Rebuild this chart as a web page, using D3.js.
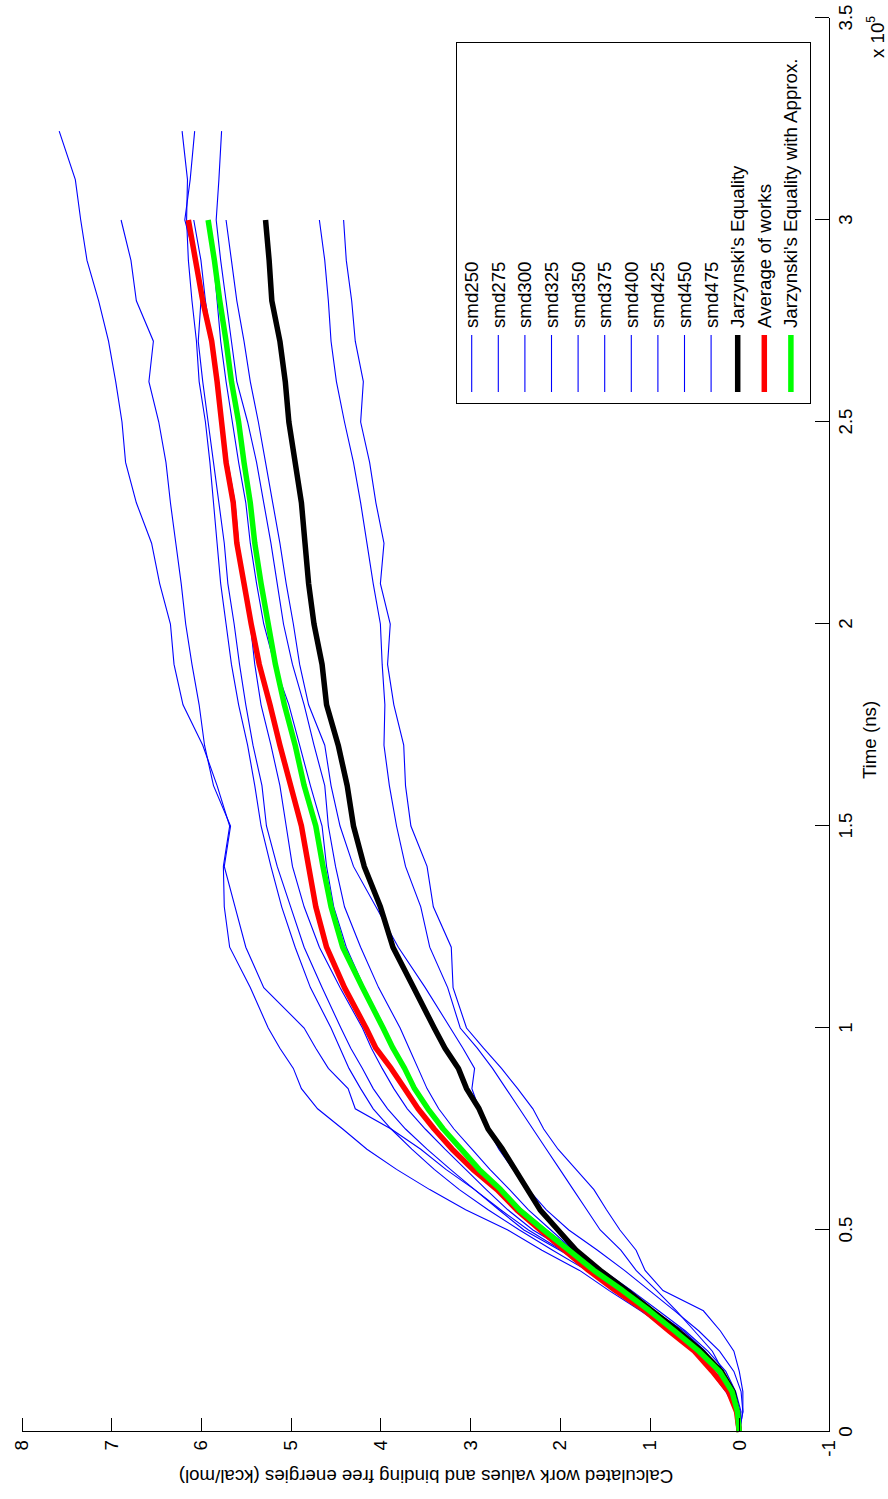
<!doctype html>
<html>
<head>
<meta charset="utf-8">
<title>Work values</title>
<style>
body { margin: 0; background: #fff; }
svg text { font-family: "Liberation Sans", Arial, sans-serif; font-size: 18.7px; fill: #000; }
.axis path, .axis line { fill: none; stroke: #000; shape-rendering: crispEdges; }
.blue { fill: none; stroke: #0000ff; stroke-width: 1.1px; }
.thick { fill: none; stroke-width: 5.5px; stroke-linejoin: round; }
</style>
<script src="https://cdn.jsdelivr.net/npm/d3@7"></script>
</head>
<body>
<script>
// time in units of 1e5
var timeSteps = [0, 0.05, 0.1, 0.15, 0.2, 0.25, 0.3, 0.35, 0.4, 0.45, 0.5, 0.55, 0.6, 0.65, 0.7, 0.75, 0.8, 0.85, 0.9, 0.95,
    1.0, 1.1, 1.2, 1.3, 1.4, 1.5, 1.6, 1.7, 1.8, 1.9, 2.0, 2.1, 2.2, 2.3, 2.4, 2.5, 2.6, 2.7, 2.8, 2.9, 3.0, 3.1, 3.22];

var smd250 = [0, 0.03, 0.15, 0.32, 0.50, 0.77, 1.10, 1.45, 1.78, 2.20, 2.58, 3.05, 3.45, 3.82, 4.15, 4.42, 4.70, 4.88, 4.97, 5.12,
    5.25, 5.45, 5.68, 5.74, 5.75, 5.68, 5.82, 5.98, 6.20, 6.30, 6.34, 6.46, 6.55, 6.72, 6.84, 6.88, 6.95, 7.03, 7.14, 7.27, 7.34, 7.40, 7.58];
var smd275 = [0, 0.02, 0.08, 0.20, 0.38, 0.62, 0.95, 1.28, 1.62, 2.00, 2.40, 2.68, 2.95, 3.27, 3.55, 3.88, 4.28, 4.36, 4.58, 4.72,
    4.85, 5.30, 5.50, 5.62, 5.74, 5.67, 5.86, 5.96, 6.02, 6.10, 6.17, 6.22, 6.28, 6.34, 6.39, 6.47, 6.58, 6.53, 6.72, 6.78, 6.89];
var smd300 = [0, 0.01, 0.10, 0.25, 0.45, 0.72, 1.02, 1.35, 1.70, 2.08, 2.45, 2.80, 3.12, 3.40, 3.65, 3.88, 4.08, 4.22, 4.35, 4.45,
    4.55, 4.78, 4.95, 5.10, 5.22, 5.33, 5.40, 5.48, 5.58, 5.66, 5.72, 5.78, 5.82, 5.86, 5.90, 5.95, 6.02, 6.05, 6.10, 6.14, 6.16, 6.15, 6.21];
var smd325 = [0, 0.02, 0.09, 0.22, 0.42, 0.68, 0.98, 1.30, 1.62, 1.98, 2.35, 2.66, 2.95, 3.22, 3.48, 3.72, 3.92, 4.08, 4.20, 4.33,
    4.44, 4.65, 4.85, 5.00, 5.15, 5.27, 5.32, 5.42, 5.50, 5.57, 5.63, 5.70, 5.74, 5.80, 5.86, 5.92, 5.98, 6.03, 6.00, 6.06, 6.18, 6.12, 6.07];
var smd350 = [0, 0.00, 0.06, 0.18, 0.40, 0.66, 0.96, 1.28, 1.58, 1.92, 2.30, 2.58, 2.82, 3.05, 3.28, 3.50, 3.70, 3.85, 3.98, 4.10,
    4.20, 4.45, 4.68, 4.85, 4.98, 5.05, 5.12, 5.22, 5.33, 5.40, 5.45, 5.52, 5.58, 5.62, 5.70, 5.76, 5.82, 5.88, 5.95, 6.00, 6.08];
var smd375 = [0, -0.02, 0.04, 0.15, 0.35, 0.60, 0.90, 1.20, 1.52, 1.85, 2.15, 2.42, 2.65, 2.88, 3.08, 3.28, 3.45, 3.60, 3.72, 3.85,
    3.95, 4.18, 4.38, 4.52, 4.60, 4.65, 4.78, 4.90, 5.02, 5.18, 5.30, 5.38, 5.45, 5.50, 5.58, 5.65, 5.72, 5.78, 5.82, 5.86, 5.90];
var smd400 = [0, 0.03, 0.12, 0.28, 0.48, 0.74, 1.02, 1.30, 1.58, 1.85, 2.10, 2.35, 2.56, 2.78, 2.98, 3.18, 3.35, 3.48, 3.58, 3.68,
    3.78, 4.02, 4.22, 4.40, 4.50, 4.58, 4.62, 4.74, 4.85, 4.98, 5.08, 5.15, 5.22, 5.30, 5.38, 5.48, 5.60, 5.66, 5.72, 5.78, 5.83, 5.80, 5.77];
var smd425 = [0, -0.04, -0.02, 0.06, 0.22, 0.45, 0.72, 1.00, 1.28, 1.58, 1.90, 2.15, 2.35, 2.52, 2.68, 2.80, 2.90, 2.98, 2.95, 3.08,
    3.22, 3.50, 3.80, 4.05, 4.30, 4.45, 4.55, 4.62, 4.80, 4.90, 4.97, 5.05, 5.12, 5.20, 5.28, 5.36, 5.45, 5.52, 5.60, 5.66, 5.72];
var smd450 = [0, -0.01, 0.08, 0.18, 0.30, 0.50, 0.70, 0.92, 1.15, 1.32, 1.55, 1.70, 1.85, 2.00, 2.15, 2.30, 2.45, 2.60, 2.75, 2.92,
    3.11, 3.25, 3.45, 3.55, 3.72, 3.82, 3.90, 3.96, 3.95, 3.98, 4.00, 4.08, 4.15, 4.22, 4.30, 4.40, 4.49, 4.55, 4.58, 4.62, 4.68];
var smd475 = [0, -0.04, -0.04, 0.00, 0.06, 0.21, 0.40, 0.85, 1.05, 1.15, 1.33, 1.48, 1.62, 1.82, 2.02, 2.18, 2.30, 2.47, 2.65, 2.85,
    3.04, 3.19, 3.21, 3.41, 3.48, 3.66, 3.72, 3.74, 3.85, 3.92, 3.89, 4.00, 3.96, 4.05, 4.12, 4.22, 4.19, 4.28, 4.32, 4.38, 4.41];

var jarzynski = [0, 0.02, 0.07, 0.20, 0.42, 0.68, 0.97, 1.25, 1.55, 1.82, 2.02, 2.22, 2.36, 2.50, 2.64, 2.80, 2.90, 3.04, 3.13, 3.28,
    3.40, 3.63, 3.86, 4.00, 4.18, 4.30, 4.37, 4.47, 4.60, 4.65, 4.74, 4.80, 4.84, 4.88, 4.95, 5.02, 5.06, 5.12, 5.21, 5.24, 5.28];
var averageWorks = [0, 0.03, 0.12, 0.30, 0.50, 0.78, 1.05, 1.38, 1.68, 1.95, 2.22, 2.48, 2.70, 2.97, 3.20, 3.40, 3.58, 3.73, 3.88, 4.05,
    4.16, 4.40, 4.60, 4.72, 4.80, 4.88, 5.00, 5.12, 5.23, 5.35, 5.44, 5.52, 5.60, 5.64, 5.72, 5.77, 5.82, 5.88, 5.98, 6.06, 6.14];
var jarzynskiApprox = [0, 0.02, 0.08, 0.22, 0.45, 0.72, 1.00, 1.30, 1.62, 1.90, 2.18, 2.45, 2.66, 2.90, 3.10, 3.30, 3.47, 3.62, 3.73, 3.86,
    3.97, 4.20, 4.42, 4.55, 4.64, 4.72, 4.85, 4.95, 5.07, 5.17, 5.25, 5.33, 5.40, 5.45, 5.52, 5.58, 5.66, 5.72, 5.79, 5.85, 5.92];

var blueSeries = [smd250, smd275, smd300, smd325, smd350, smd375, smd400, smd425, smd450, smd475];
var legendNames = ["smd250", "smd275", "smd300", "smd325", "smd350", "smd375", "smd400", "smd425", "smd450", "smd475",
    "Jarzynski's Equality", "Average of works", "Jarzynski's Equality with Approx."];
var timeTicks = [0, 0.5, 1, 1.5, 2, 2.5, 3, 3.5];
var energyTicks = [-1, 0, 1, 2, 3, 4, 5, 6, 7, 8];

// chart is laid out landscape (1499 x 888) then turned a quarter to the left
var W = 1499, H = 888;

var svg = d3.select("body").append("svg")
    .attr("width", H)
    .attr("height", W);

var g = svg.append("g")
    .attr("transform", "translate(0," + W + ") rotate(-90)");

var x = d3.scaleLinear().domain([0, 3.5]).range([67, 1481]);
var y = d3.scaleLinear().domain([-1, 8]).range([829, 21.5]);

var line = d3.line()
    .x(function(d, i) { return x(timeSteps[i]); })
    .y(function(d) { return y(d); });

g.selectAll(".blue")
    .data(blueSeries)
    .enter().append("path")
    .attr("class", "blue")
    .attr("d", line);

var thick = [
    { values: jarzynski, color: "#000000" },
    { values: averageWorks, color: "#ff0000" },
    { values: jarzynskiApprox, color: "#00ff00" }
];

g.selectAll(".thick")
    .data(thick)
    .enter().append("path")
    .attr("class", "thick")
    .attr("stroke", function(d) { return d.color; })
    .attr("d", function(d) { return line(d.values); });

// axes, ticks pointing inward, no box
g.append("g")
    .attr("class", "axis")
    .attr("transform", "translate(0," + y(-1) + ")")
    .call(d3.axisBottom(x).tickValues(timeTicks).tickFormat(function(d) { return String(d); })
        .tickSizeInner(-14).tickSizeOuter(0).tickPadding(10));

g.append("g")
    .attr("class", "axis")
    .attr("transform", "translate(" + x(0) + ",0)")
    .call(d3.axisLeft(y).tickValues(energyTicks).tickFormat(function(d) { return String(d); })
        .tickSizeInner(-14).tickSizeOuter(0).tickPadding(8));

g.selectAll(".axis text").attr("font-size", null).attr("font-family", null);

g.append("text")
    .attr("x", 759)
    .attr("y", 876)
    .attr("text-anchor", "middle")
    .text("Time (ns)");

var mult = g.append("text")
    .attr("x", 1441)
    .attr("y", 884);
mult.append("tspan").text("x 10");
mult.append("tspan").attr("dy", -9).attr("font-size", 12).text("5");

g.append("text")
    .attr("transform", "translate(29,426) rotate(-90)")
    .attr("text-anchor", "middle")
    .text("Calculated work values and binding free energies (kcal/mol)");

// legend
var legend = g.append("g");
legend.append("rect")
    .attr("x", 1096)
    .attr("y", 456)
    .attr("width", 361)
    .attr("height", 354)
    .attr("fill", "#fff")
    .attr("stroke", "#000")
    .attr("shape-rendering", "crispEdges");

var items = legend.selectAll(".item")
    .data(legendNames)
    .enter().append("g")
    .attr("class", "item")
    .attr("transform", function(d, i) { return "translate(0," + (471.7 + i * 26.6) + ")"; });

items.append("line")
    .attr("x1", 1107)
    .attr("x2", 1164)
    .attr("stroke", function(d, i) { return i < 10 ? "#0000ff" : thick[i - 10].color; })
    .attr("stroke-width", function(d, i) { return i < 10 ? 1.1 : 5.5; });

items.append("text")
    .attr("x", 1171)
    .attr("dy", "0.35em")
    .text(function(d) { return d; });
</script>
</body>
</html>
